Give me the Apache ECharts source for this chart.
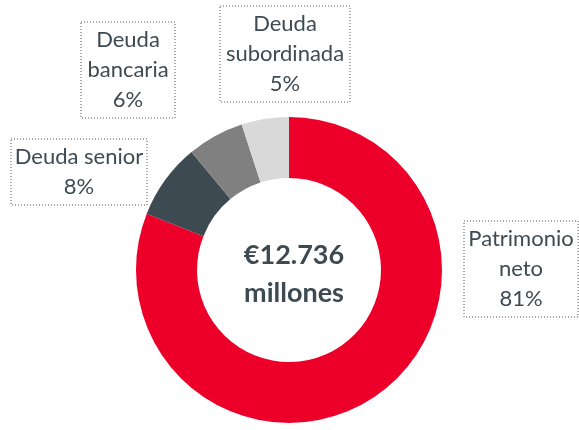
<!DOCTYPE html>
<html>
<head>
<meta charset="utf-8">
<script src="https://cdn.jsdelivr.net/npm/echarts@6/dist/echarts.min.js"></script>
<style>
  html, body { margin: 0; padding: 0; background: #fff; }
  #chart { width: 579px; height: 430px; }
</style>
</head>
<body>
<div id="chart"></div>
<script>
// composition of funding, % of total
const categories = ['Patrimonio\nneto', 'Deuda senior', 'Deuda\nbancaria', 'Deuda\nsubordinada']
const shares = [81, 8, 6, 5]
const colors = ['#EC0029', '#3D4A52', '#808080', '#D9D9D9']
const centerText = '€12.736\nmillones'

// dotted label boxes: centre and inner width
const labelSpots = [[521, 269], [79, 172], [128, 70], [285, 54]]
const labelWidths = [102, 124, 82, 118]

const chart = echarts.init(document.getElementById('chart'))

chart.setOption({
  animation: false,
  title: {
    text: centerText,
    left: 289,
    top: 269,
    textAlign: 'center',
    textVerticalAlign: 'middle',
    textStyle: {
      fontFamily: 'Lato',
      fontSize: 27,
      fontWeight: 'bold',
      lineHeight: 38,
      color: '#3D4A52',
    },
  },
  series: [{
    type: 'pie',
    center: [289, 270],
    radius: [92, 153],
    startAngle: 90,
    clockwise: true,
    silent: true,
    data: categories.map((name, i) => ({
      name,
      value: shares[i],
      itemStyle: { color: colors[i] },
      label: { width: labelWidths[i] },
    })),
    label: {
      show: true,
      position: 'outside',
      formatter: '{b}\n{d}%',
      fontFamily: 'Lato',
      fontSize: 22,
      lineHeight: 30,
      color: '#3F4A52',
      align: 'center',
      overflow: 'none',
      borderColor: '#555',
      borderWidth: 1,
      borderType: [1, 2],
      padding: [3, 6],
    },
    labelLine: { show: false },
    labelLayout: params => ({
      x: labelSpots[params.dataIndex][0],
      y: labelSpots[params.dataIndex][1],
      align: 'center',
      verticalAlign: 'middle',
    }),
  }],
})
</script>
</body>
</html>
